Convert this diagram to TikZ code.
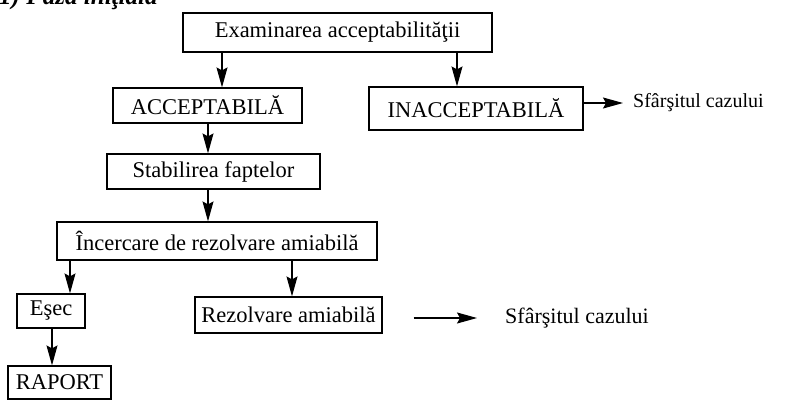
\documentclass[tikz,border=0pt]{standalone}
\usepackage{fontspec}
\setmainfont{Liberation Serif}
\usetikzlibrary{arrows.meta}
\begin{document}
\begin{tikzpicture}[x=1pt,y=-1pt,
  box/.style={draw,line width=1.2pt,inner sep=0pt,font=\fontsize{22.5}{27}\selectfont},
  lbl/.style={inner sep=0pt,anchor=west},
  arr/.style={line width=1.2pt,-{Stealth[length=20pt,width=11pt,inset=3pt]}}]
\useasboundingbox (0,0) rectangle (788,400);
\node[anchor=base west,inner sep=0pt,font=\fontsize{25}{30}\selectfont\bfseries\itshape] (title) at (-1,4.5) {1) Faza iniţială};
\node[box,minimum width=309pt,minimum height=39pt] (exam) at (337.5,32.5) {Examinarea acceptabilităţii};
\node[box,minimum width=189pt,minimum height=35pt] (acc) at (207.5,105.5) {ACCEPTABILĂ};
\node[box,minimum width=214pt,minimum height=43pt] (inacc) at (476,108.5) {INACCEPTABILĂ};
\node[box,minimum width=213pt,minimum height=35pt] (stab) at (213.5,171.5) {Stabilirea faptelor};
\node[box,minimum width=320pt,minimum height=38pt] (inc) at (217,241) {Încercare de rezolvare amiabilă};
\node[box,minimum width=68pt,minimum height=34pt] (esec) at (51,311) {Eşec};
\node[box,minimum width=187pt,minimum height=36pt] (rez) at (288.5,315) {Rezolvare amiabilă};
\node[box,minimum width=103pt,minimum height=33pt] (raport) at (59.5,382.5) {RAPORT};
\node[lbl,font=\fontsize{20}{24}\selectfont] (end1) at (633,103) {Sfârşitul cazului};
\node[lbl,font=\fontsize{22}{26}\selectfont] (end2) at (505,318) {Sfârşitul cazului};
\draw[arr] (exam.south -| 222,0) -- (acc.north -| 222,0);
\draw[arr] (exam.south -| 457,0) -- (inacc.north -| 457,0);
\draw[arr] (acc.south -| 208,0) -- (stab.north -| 208,0);
\draw[arr] (stab.south -| 208,0) -- (inc.north -| 208,0);
\draw[arr] (inc.south -| 70,0) -- (esec.north -| 70,0);
\draw[arr] (inc.south -| 292,0) -- (rez.north -| 292,0);
\draw[arr] (esec.south -| 52,0) -- (raport.north -| 52,0);
\draw[arr] (inacc.east |- end1.west) -- ([xshift=-10pt]end1.west);
\draw[arr] ([xshift=31pt]rez.east |- end2.west) -- ([xshift=-28pt]end2.west);
\end{tikzpicture}
\end{document}
